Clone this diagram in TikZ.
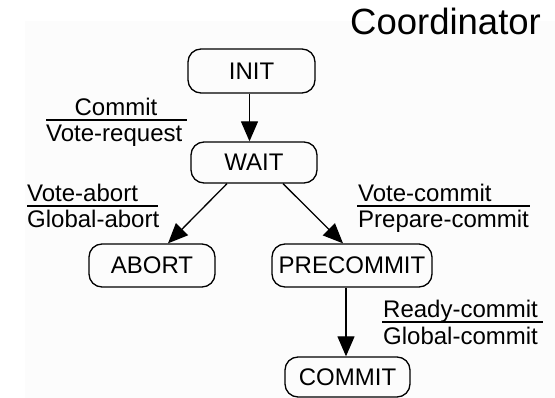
\documentclass[tikz,border=0pt]{standalone}
\usepackage{fontspec}
\setmainfont{Liberation Sans}
\usetikzlibrary{arrows.meta,calc}
\begin{document}
\begin{tikzpicture}[x=1pt,y=-1pt,
  state/.style={draw, rounded corners=13pt, line width=1.3pt, inner sep=0pt,
    font=\fontsize{24}{28}\selectfont},
  lbl/.style={inner sep=0pt, anchor=base west, font=\fontsize{24}{28}\selectfont},
  trans/.style={line width=1.3pt, -{Triangle[length=20pt,width=17pt]}},
  fracrule/.style={line width=1.2pt}]
\useasboundingbox (0,0) rectangle (555,398);
\fill[gray!2] (25,21) rectangle (555,398);

% title
\node[anchor=base west, inner sep=0pt, font=\fontsize{36.5}{40}\selectfont] (title) at (350,35) {Coordinator};

% states
\node[state, minimum width=127pt, minimum height=44pt] (init) at (251.5,71) {INIT};
\node[state, minimum width=126pt, minimum height=41pt] (wait) at (254,162.5) {WAIT};
\node[state, minimum width=126pt, minimum height=43pt] (abort) at (152,265.5) {ABORT};
\node[state, minimum width=160pt, minimum height=43pt] (precommit) at (352,265.5) {PRECOMMIT};
\node[state, minimum width=125pt, minimum height=40pt] (commit) at (347.5,377) {COMMIT};

% transitions
\draw[trans] ($(init.south)+(-2,0)$) -- ($(wait.north)+(-4.5,0)$);
\draw[trans] ($(wait.south)+(-27,0)$) -- ($(abort.north)+(16,0)$);
\draw[trans] ($(wait.south)+(29,0)$) -- ($(precommit.north)+(-9,0)$);
\draw[trans] ($(precommit.south)+(-6,0)$) -- ($(commit.north)+(-1.5,0)$);

% transition labels: event over action
\node[lbl, anchor=base] (ev1) at (116,116) {Commit};
\node[lbl] (ac1) at (46,142) {Vote-request};
\draw[fracrule] (46,120) -- (187,120);

\node[lbl] (ev2) at (27,202) {Vote-abort};
\node[lbl] (ac2) at (27,228) {Global-abort};
\draw[fracrule] (27,206) -- (158,206);

\node[lbl] (ev3) at (358,202) {Vote-commit};
\node[lbl] (ac3) at (358,228) {Prepare-commit};
\draw[fracrule] (357,206) -- (530,206);

\node[lbl] (ev4) at (383,318) {Ready-commit};
\node[lbl] (ac4) at (383,345) {Global-commit};
\draw[fracrule] (382,322) -- (543,322);
\end{tikzpicture}
\end{document}
